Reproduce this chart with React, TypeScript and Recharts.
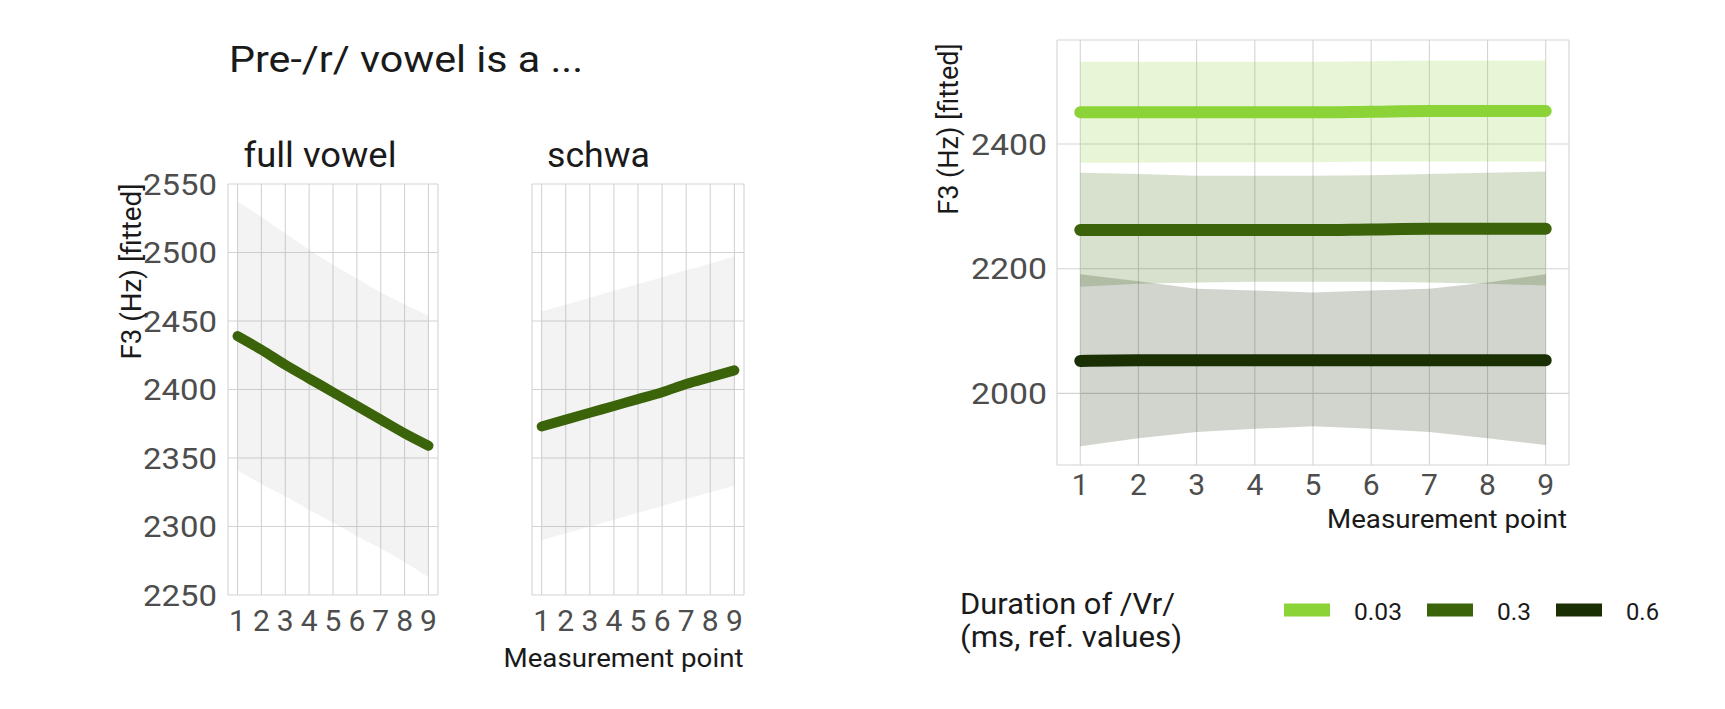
import React from 'react';
import { ComposedChart, Line, Area, XAxis, YAxis, CartesianGrid } from 'recharts';

const FONT = 'Roboto, "Open Sans", "Noto Sans", sans-serif';

// ---------- data ----------
const measurementPoints = [1, 2, 3, 4, 5, 6, 7, 8, 9];

// Left: "Pre-/r/ vowel is a ..." facets
const fullVowelFit = [2439, 2429, 2418, 2408, 2398, 2388, 2378, 2368, 2359];
const fullVowelLower = [2341, 2331, 2322, 2312, 2303, 2293, 2284, 2274, 2263];
const fullVowelUpper = [2537, 2526, 2514, 2502, 2491, 2481, 2471, 2462, 2454];

const schwaFit = [2373, 2378, 2383, 2388, 2393, 2398, 2404, 2409, 2414];
const schwaLower = [2290, 2295, 2300, 2305, 2310, 2315, 2320, 2325, 2330];
const schwaUpper = [2457, 2462, 2467, 2472, 2477, 2482, 2487, 2492, 2497];

const leftYTicks = [2250, 2300, 2350, 2400, 2450, 2500, 2550];

// Right: duration of /Vr/
const durationLabels = ['0.03', '0.3', '0.6'];
const durationColors = ['#8bd336', '#3b630a', '#1b2f05'];

const fit003 = [2451, 2451, 2451, 2451, 2451, 2452, 2453, 2453, 2453];
const lower003 = [2370, 2370, 2371, 2371, 2371, 2372, 2372, 2372, 2372];
const upper003 = [2532, 2532, 2532, 2532, 2532, 2533, 2534, 2534, 2534];

const fit03 = [2262, 2262, 2262, 2262, 2262, 2263, 2264, 2264, 2264];
const lower03 = [2171, 2176, 2178, 2179, 2179, 2179, 2178, 2176, 2173];
const upper03 = [2354, 2352, 2349, 2349, 2349, 2350, 2352, 2354, 2356];

const fit06 = [2052, 2053, 2053, 2053, 2053, 2053, 2053, 2053, 2053];
const lower06 = [1915, 1928, 1938, 1943, 1947, 1943, 1938, 1928, 1917];
const upper06 = [2191, 2180, 2168, 2165, 2162, 2165, 2168, 2178, 2191];

const rightYTicks = [2000, 2200, 2400];

// ---------- tables ----------
const fullVowelData = measurementPoints.map((x, i) => ({
  x,
  fit: fullVowelFit[i],
  band: [fullVowelLower[i], fullVowelUpper[i]],
}));
const schwaData = measurementPoints.map((x, i) => ({
  x,
  fit: schwaFit[i],
  band: [schwaLower[i], schwaUpper[i]],
}));
const durationData = measurementPoints.map((x, i) => ({
  x,
  f003: fit003[i],
  b003: [lower003[i], upper003[i]],
  f03: fit03[i],
  b03: [lower03[i], upper03[i]],
  f06: fit06[i],
  b06: [lower06[i], upper06[i]],
}));

// ---------- helpers ----------
const GRID = '#d3d3d3';
const TICK = '#4d4d4d';

const makeTick =
  (opts: { size: number; anchor: string; dy: string; len?: number }) =>
  (props: any) => {
    const { x, y, payload } = props;
    return (
      <text
        x={x}
        y={y}
        dy={opts.dy}
        textAnchor={opts.anchor}
        fontSize={opts.size}
        fill={TICK}
        fontFamily={FONT}
        textLength={opts.len}
        lengthAdjust={opts.len ? 'spacingAndGlyphs' : undefined}
      >
        {payload.value}
      </text>
    );
  };

const leftYTick = makeTick({ size: 30, anchor: 'end', dy: '0.355em', len: 74 });
const leftXTick = makeTick({ size: 30, anchor: 'middle', dy: '0.71em' });
const rightYTick = makeTick({ size: 30, anchor: 'end', dy: '0.355em', len: 76 });
const rightXTick = makeTick({ size: 30, anchor: 'middle', dy: '0.71em' });

function Facet({ data, showY }: { data: any[]; showY: boolean }) {
  return (
    <ComposedChart
      width={showY ? 450 : 256}
      height={709}
      data={data}
      margin={{ top: 184, right: 12, bottom: 54, left: showY ? 0 : 32 }}
    >
      <CartesianGrid stroke={GRID} strokeWidth={1.1} />
      <XAxis
        dataKey="x"
        type="number"
        domain={[0.6, 9.4]}
        ticks={measurementPoints}
        interval={0}
        axisLine={false}
        tickLine={false}
        tickSize={0}
        tickMargin={15}
        height={60}
        tick={leftXTick}
      />
      <YAxis
        type="number"
        domain={[2250, 2550]}
        ticks={leftYTicks}
        interval={0}
        axisLine={false}
        tickLine={false}
        tickSize={0}
        tickMargin={11}
        width={228}
        hide={!showY}
        tick={leftYTick}
      />
      <Area
        type="monotone"
        dataKey="band"
        stroke="none"
        fill="#999999"
        fillOpacity={0.12}
        isAnimationActive={false}
      />
      <Line
        type="monotone"
        dataKey="fit"
        stroke="#3b630a"
        strokeWidth={10}
        strokeLinecap="round"
        dot={false}
        isAnimationActive={false}
      />
    </ComposedChart>
  );
}

function DurationChart() {
  const bandKeys = ['b003', 'b03', 'b06'];
  const fitKeys = ['f003', 'f03', 'f06'];
  return (
    <ComposedChart
      width={690}
      height={709}
      data={durationData}
      margin={{ top: 40, right: 21, bottom: 184, left: 0 }}
    >
      <CartesianGrid stroke={GRID} strokeWidth={1.1} />
      <XAxis
        dataKey="x"
        type="number"
        domain={[0.6, 9.4]}
        ticks={measurementPoints}
        interval={0}
        axisLine={false}
        tickLine={false}
        tickSize={0}
        tickMargin={9}
        height={60}
        tick={rightXTick}
      />
      <YAxis
        type="number"
        domain={[1885, 2567]}
        ticks={rightYTicks}
        interval={0}
        axisLine={false}
        tickLine={false}
        tickSize={0}
        tickMargin={10}
        width={157}
        tick={rightYTick}
      />
      {bandKeys.map((k, i) => (
        <Area
          key={k}
          type="linear"
          dataKey={k}
          stroke="none"
          fill={durationColors[i]}
          fillOpacity={0.2}
          isAnimationActive={false}
        />
      ))}
      {fitKeys.map((k, i) => (
        <Line
          key={k}
          type="monotone"
          dataKey={k}
          stroke={durationColors[i]}
          strokeWidth={12}
          strokeLinecap="round"
          dot={false}
          isAnimationActive={false}
        />
      ))}
    </ComposedChart>
  );
}

const legendLabelWidths = [48, 34, 33];

function Overlay() {
  let cursor = 1284;
  const legendItems = durationLabels.map((lab, i) => {
    const keyX = cursor;
    const labelX = keyX + 46 + 24;
    cursor = labelX + legendLabelWidths[i] + 25;
    return (
      <g key={lab}>
        <rect x={keyX} y={603.5} width={46} height={13} fill={durationColors[i]} />
        <text
          x={labelX}
          y={620}
          fontSize={24}
          fill="#1a1a1a"
          fontFamily={FONT}
          textLength={legendLabelWidths[i]}
          lengthAdjust="spacingAndGlyphs"
        >
          {lab}
        </text>
      </g>
    );
  });
  const txt = { fontFamily: FONT, fill: '#1a1a1a' } as any;
  return (
    <svg
      width={1725}
      height={709}
      style={{ position: 'absolute', left: 0, top: 0, pointerEvents: 'none' }}
    >
      <text {...txt} x={229} y={71.7} fontSize={37} textLength={354} lengthAdjust="spacingAndGlyphs">
        Pre-/r/ vowel is a ...
      </text>
      <text {...txt} x={243.5} y={166.7} fontSize={35} textLength={153} lengthAdjust="spacingAndGlyphs">
        full vowel
      </text>
      <text {...txt} x={547} y={166.7} fontSize={35} textLength={103} lengthAdjust="spacingAndGlyphs">
        schwa
      </text>
      <text
        {...txt}
        x={140.5}
        y={183.5}
        fontSize={28}
        textAnchor="end"
        transform="rotate(-90 140.5 183.5)"
        textLength={176}
        lengthAdjust="spacingAndGlyphs"
      >
        F3 (Hz) [fitted]
      </text>
      <text
        {...txt}
        x={958.5}
        y={43.3}
        fontSize={27}
        textAnchor="end"
        transform="rotate(-90 958.5 43.3)"
        textLength={171.5}
        lengthAdjust="spacingAndGlyphs"
      >
        F3 (Hz) [fitted]
      </text>
      <text {...txt} x={743.5} y={666.7} fontSize={26} textAnchor="end" textLength={240} lengthAdjust="spacingAndGlyphs">
        Measurement point
      </text>
      <text {...txt} x={1567} y={528} fontSize={26} textAnchor="end" textLength={240} lengthAdjust="spacingAndGlyphs">
        Measurement point
      </text>
      <text {...txt} x={960} y={614} fontSize={30} textLength={215} lengthAdjust="spacingAndGlyphs">
        Duration of /Vr/
      </text>
      <text {...txt} x={960} y={647} fontSize={30} textLength={222} lengthAdjust="spacingAndGlyphs">
        (ms, ref. values)
      </text>
      {legendItems}
    </svg>
  );
}

export default function App() {
  return (
    <div
      style={{
        position: 'absolute',
        left: 0,
        top: 0,
        width: 1725,
        height: 709,
        background: '#ffffff',
        overflow: 'hidden',
        fontFamily: FONT,
      }}
    >
      <div style={{ position: 'absolute', left: 0, top: 0 }}>
        <Facet data={fullVowelData} showY={true} />
      </div>
      <div style={{ position: 'absolute', left: 500, top: 0 }}>
        <Facet data={schwaData} showY={false} />
      </div>
      <div style={{ position: 'absolute', left: 900, top: 0 }}>
        <DurationChart />
      </div>
      <Overlay />
    </div>
  );
}
